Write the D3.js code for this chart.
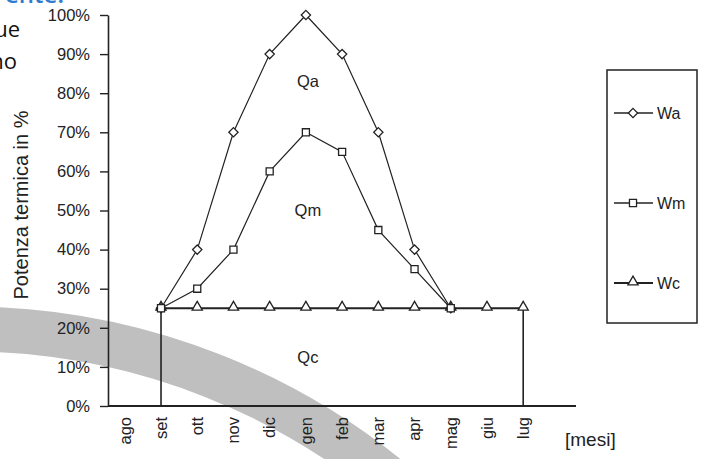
<!DOCTYPE html>
<html><head><meta charset="utf-8">
<script src="https://cdn.jsdelivr.net/npm/d3@7"></script>
<style>html,body{margin:0;padding:0;background:#fff;}svg{display:block;}</style>
</head><body>
<script>
const months = ["ago","set","ott","nov","dic","gen","feb","mar","apr","mag","giu","lug"];
const yTicks = [0,10,20,30,40,50,60,70,80,90,100];
const waMonths = ["set","ott","nov","dic","gen","feb","mar","apr","mag"];
const waValues = [25,40,70,90,100,90,70,40,25];
const wmMonths = ["set","ott","nov","dic","gen","feb","mar","apr","mag"];
const wmValues = [25,30,40,60,70,65,45,35,25];
const wcMonths = ["set","ott","nov","dic","gen","feb","mar","apr","mag","giu","lug"];
const wcValues = [25,25,25,25,25,25,25,25,25,25,25];
const legendNames = ["Wa","Wm","Wc"];
const areaLabels = [{t:"Qa",m:"gen",v:83},{t:"Qm",m:"gen",v:50},{t:"Qc",m:"gen",v:12.5}];

const W=707,H=459;
const svg=d3.select("body").append("svg").attr("width",W).attr("height",H);
const font="'Liberation Sans', Arial, sans-serif";

// background slide decoration
svg.append("circle").attr("cx",-33).attr("cy",998).attr("r",669)
  .attr("fill","none").attr("stroke","#bfbfbf").attr("stroke-width",45);
svg.append("text").attr("x",64).attr("y",3).attr("text-anchor","end")
  .attr("font-family","'Open Sans', sans-serif").attr("font-size",24).attr("font-weight",600)
  .attr("fill","#2f7bd0").text("ente:");
svg.append("text").attr("x",20).attr("y",37).attr("text-anchor","end")
  .attr("font-family","'Open Sans', sans-serif").attr("font-size",22).attr("fill","#111").text("ue");
svg.append("text").attr("x",17).attr("y",69).attr("text-anchor","end")
  .attr("font-family","'Open Sans', sans-serif").attr("font-size",22).attr("fill","#111").text("no");

const x=d3.scalePoint().domain(months).range([124.8,523.2]);
const y=d3.scaleLinear().domain([0,100]).range([406,15]);
const axX0=108, axX1=576;

// y axis
const ya=svg.append("g").attr("transform",`translate(${axX0},0)`)
  .call(d3.axisLeft(y).tickValues(yTicks).tickFormat(d=>d+"%").tickSize(8).tickPadding(10).tickSizeOuter(0));
ya.select(".domain").attr("stroke","#222").attr("stroke-width",1.6);
ya.selectAll(".tick line").attr("stroke","#222").attr("stroke-width",1.4);
ya.selectAll(".tick text").attr("font-family",font).attr("font-size",16.5).attr("fill","#222");

// x axis line
svg.append("line").attr("x1",axX0).attr("x2",axX1).attr("y1",y(0)).attr("y2",y(0))
  .attr("stroke","#222").attr("stroke-width",1.8);
svg.selectAll(".mlab").data(months).enter().append("text")
  .attr("transform",d=>`translate(${x(d)},417) rotate(-90)`)
  .attr("text-anchor","end").attr("dy","0.35em")
  .attr("font-family",font).attr("font-size",16.5).attr("fill","#222").text(d=>d);
svg.append("text").attr("x",565).attr("y",446).attr("font-family",font).attr("font-size",19)
  .attr("fill","#222").text("[mesi]");

// y title
svg.append("text").attr("transform","translate(28,205) rotate(-90)").attr("text-anchor","middle")
  .attr("font-family",font).attr("font-size",20).attr("fill","#222").text("Potenza termica in %");

// vertical lines at set and lug
["set","lug"].forEach(m=>{
  svg.append("line").attr("x1",x(m)).attr("x2",x(m)).attr("y1",y(25)).attr("y2",y(0))
    .attr("stroke","#222").attr("stroke-width",1.6);
});

const line=d3.line().x(d=>x(d[0])).y(d=>y(d[1]));
const wc=wcMonths.map((m,i)=>[m,wcValues[i]]);
const wa=waMonths.map((m,i)=>[m,waValues[i]]);
const wm=wmMonths.map((m,i)=>[m,wmValues[i]]);
svg.append("path").datum(wc).attr("d",line).attr("fill","none").attr("stroke","#222").attr("stroke-width",2);
svg.append("path").datum(wa).attr("d",line).attr("fill","none").attr("stroke","#222").attr("stroke-width",1.2);
svg.append("path").datum(wm).attr("d",line).attr("fill","none").attr("stroke","#222").attr("stroke-width",1.2);

const sym={Wa:d3.symbol().type(d3.symbolDiamond2).size(55),
           Wm:d3.symbol().type(d3.symbolSquare).size(50),
           Wc:d3.symbol().type(d3.symbolTriangle).size(45)};
function markers(data,name){
  svg.selectAll(".mk"+name).data(data).enter().append("path")
    .attr("transform",d=>`translate(${x(d[0])},${y(d[1]) + (name==="Wc"?-1:0)})`)
    .attr("d",sym[name]()).attr("fill","#fff").attr("stroke","#222").attr("stroke-width",1.3);
}
markers(wc,"Wc"); markers(wa,"Wa"); markers(wm,"Wm");

// area labels
areaLabels.forEach(a=>{
  svg.append("text").attr("x",x(a.m)+2).attr("y",y(a.v)).attr("dy","0.35em").attr("text-anchor","middle")
    .attr("font-family",font).attr("font-size",16.5).attr("fill","#222").text(a.t);
});

// legend
svg.append("rect").attr("x",607).attr("y",70).attr("width",90).attr("height",253)
  .attr("fill","#fff").attr("stroke","#222").attr("stroke-width",1.5);
const ly=[113,203,283];
legendNames.forEach((n,i)=>{
  svg.append("line").attr("x1",614).attr("x2",653).attr("y1",ly[i]).attr("y2",ly[i])
    .attr("stroke","#222").attr("stroke-width",n==="Wc"?1.8:1.3);
  svg.append("path").attr("transform",`translate(633,${ly[i]+(n==="Wc"?-1:0)})`).attr("d",sym[n]())
    .attr("fill","#fff").attr("stroke","#222").attr("stroke-width",1.3);
  svg.append("text").attr("x",657).attr("y",ly[i]).attr("dy","0.35em")
    .attr("font-family",font).attr("font-size",16).attr("fill","#222").text(n);
});
</script>
</body></html>
